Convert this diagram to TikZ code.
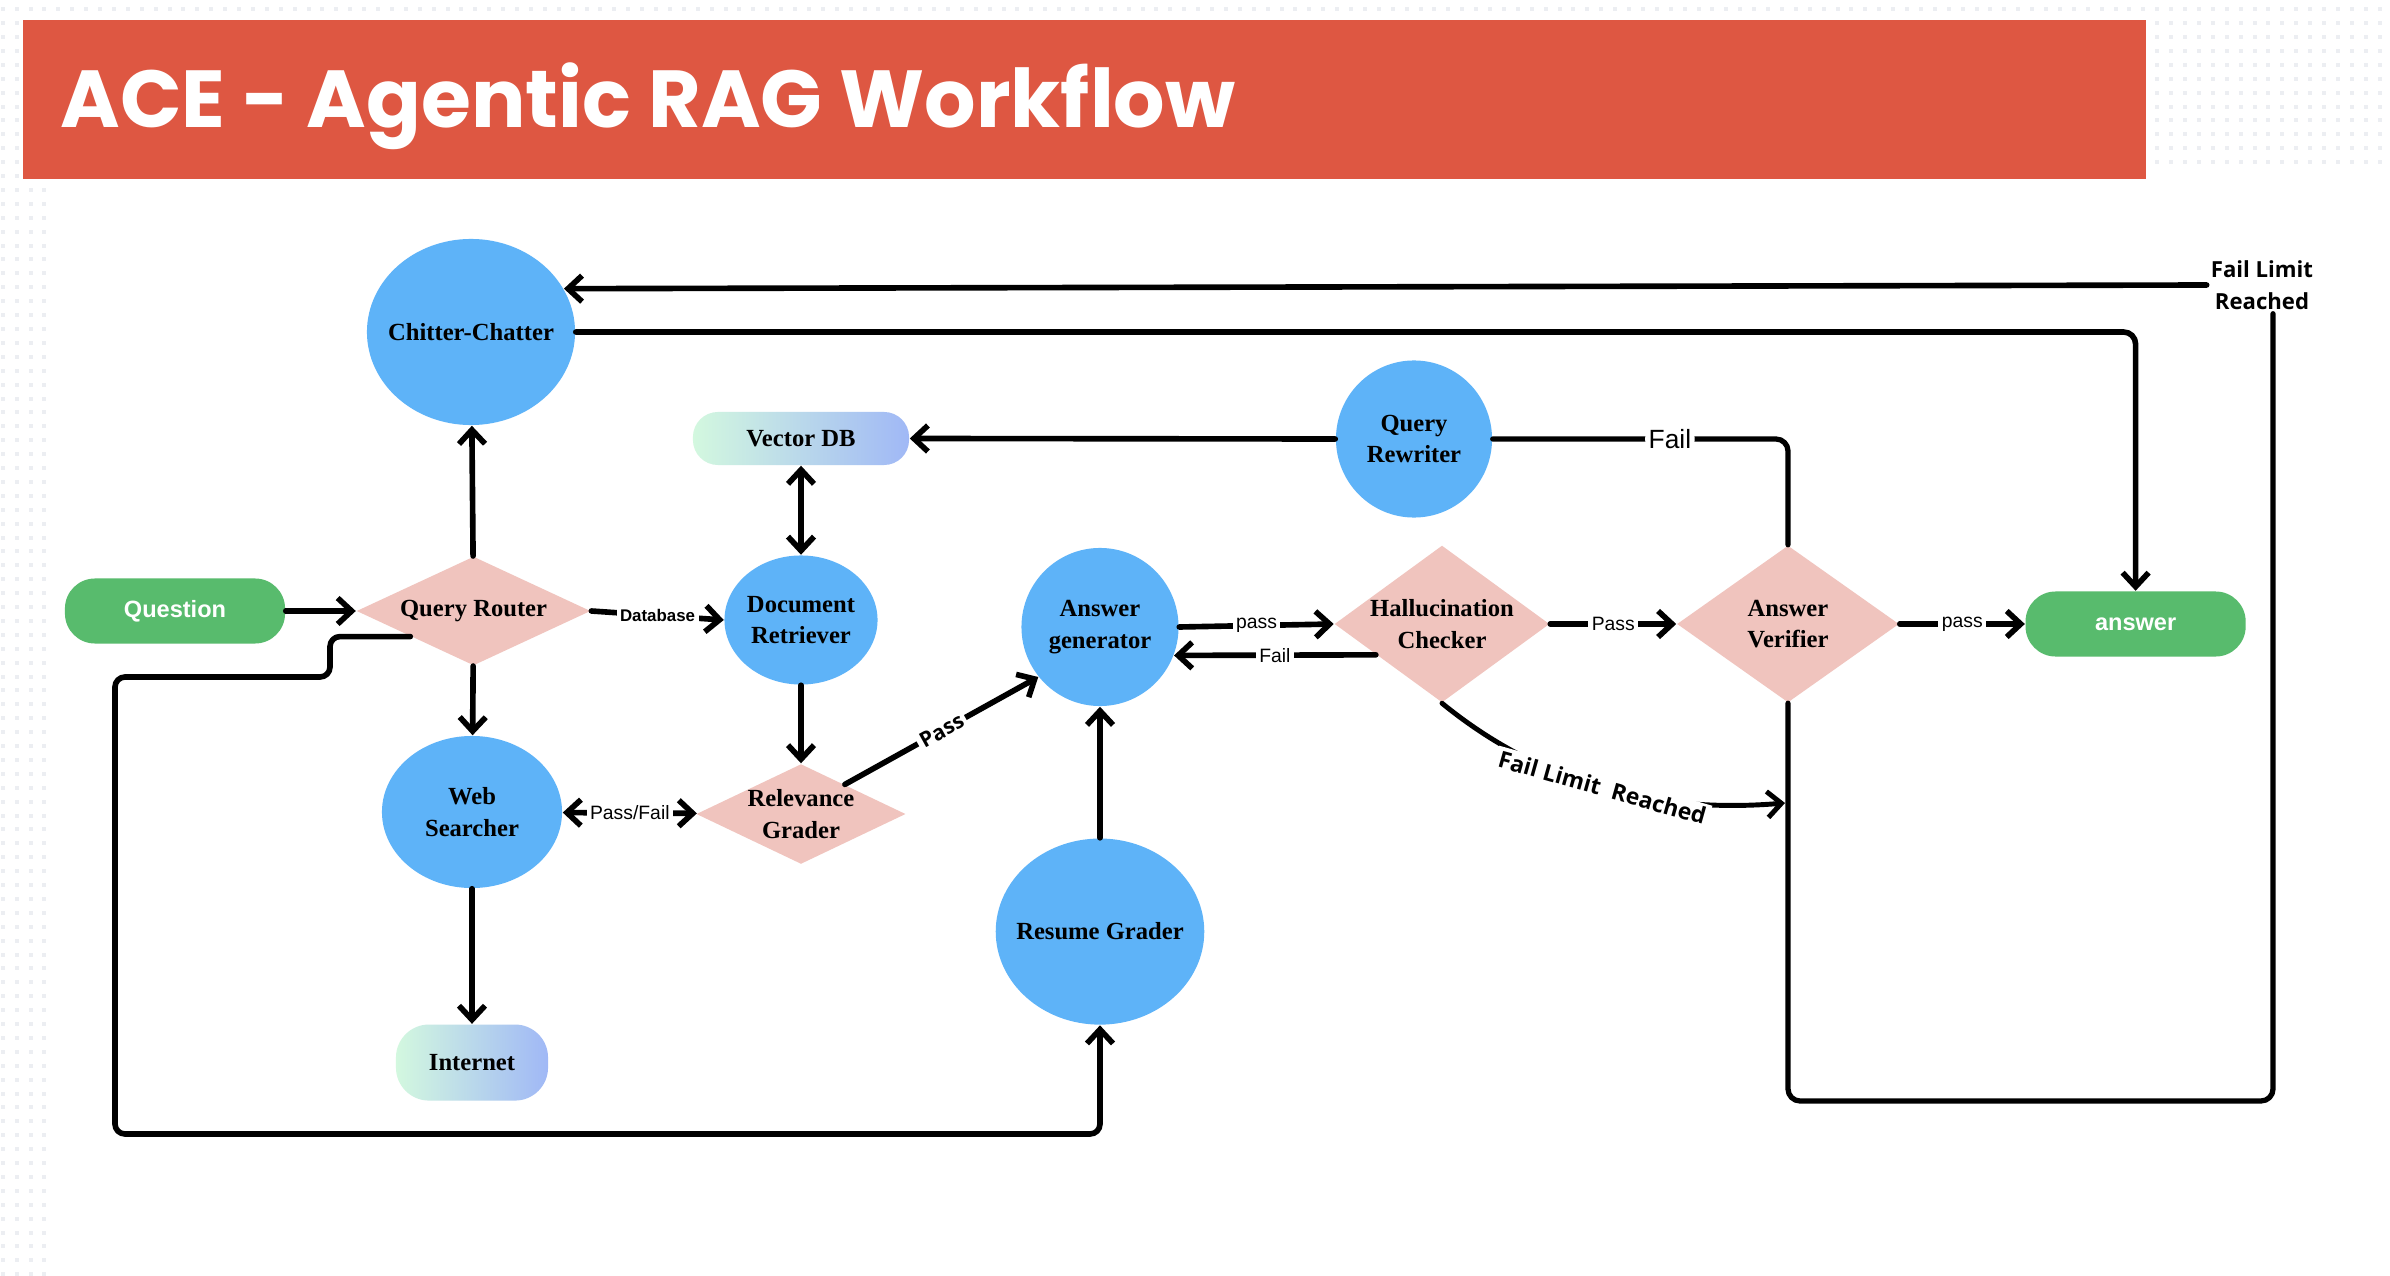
\documentclass[tikz,border=0pt]{standalone}
\usepackage{fontspec}
\setmainfont{Liberation Serif}
\setsansfont{Liberation Sans}
\newfontfamily\titlefont{Poppins}
\newfontfamily\notefont{Open Sans}
\usepackage{tikz}
\usetikzlibrary{arrows.meta,positioning,shapes.geometric}
\definecolor{titlered}{HTML}{DE5742}
\definecolor{agentblue}{HTML}{5EB3F8}
\definecolor{checkpink}{HTML}{F0C4BE}
\definecolor{pillgreen}{HTML}{58BB6D}
\definecolor{storemint}{HTML}{D3F8DF}
\definecolor{storeblue}{HTML}{A0B8F6}
\definecolor{dotgray}{HTML}{ECEEF2}

\begin{document}
\begin{tikzpicture}[
    x=0.01cm, y=-0.01cm,
    >={Straight Barb[length=1.4mm,width=2.6mm]},
    agent/.style={
        ellipse,
        fill=agentblue,
        inner sep=0pt,
        align=center,
        font=\bfseries\fontsize{7}{9}\selectfont
    },
    check/.style={
        diamond,
        fill=checkpink,
        inner sep=0pt,
        align=center,
        font=\bfseries\fontsize{7}{9}\selectfont
    },
    terminal/.style={
        rounded corners=0.3cm,
        fill=pillgreen,
        text=white,
        minimum width=2.2cm,
        minimum height=0.65cm,
        font=\sffamily\bfseries\fontsize{6.7}{8}\selectfont
    },
    store/.style={
        rounded corners=0.25cm,
        left color=storemint,
        right color=storeblue,
        font=\bfseries\fontsize{7}{9}\selectfont
    },
    flow/.style={->, line width=1.6pt, line cap=round, line join=round},
    plain/.style={line width=1.5pt, line cap=round, line join=round},
    tag/.style={fill=white, inner sep=1pt, font=\sffamily\fontsize{5.5}{6}\selectfont}
]
    \useasboundingbox (0,0) rectangle (2390,1276);
    \fill[white] (0,0) rectangle (2390,1276);

    % dotted backdrop in the margins
    \foreach \i in {0,...,171}
        \fill[dotgray] ({0.7+13.9*\i},7.3) rectangle ++(4,4);
    \foreach \j in {1,...,91}
        \foreach \i in {0,...,3}
            \fill[dotgray] ({0.7+13.9*\i},{7.3+13.9*\j}) rectangle ++(4,4);
    \foreach \j in {1,...,11}
        \foreach \i in {155,...,171}
            \fill[dotgray] ({0.7+13.9*\i},{7.3+13.9*\j}) rectangle ++(4,4);

    % banner
    \fill[titlered] (23,20) rectangle (2146,179);
    \node[anchor=base west, inner sep=0pt, text=white,
        font=\titlefont\bfseries\fontsize{23}{28}\selectfont] (title) at (60,128)
        {ACE - Agentic RAG Workflow};

    % nodes
    \node[terminal] (question) at (175,611) {Question};
    \node[check, aspect=2.15, minimum width=2.34cm, minimum height=1.09cm,
        right=0.7cm of question] (router) {Query Router};
    \node[agent, inner xsep=-0.1cm, minimum width=2.08cm, minimum height=1.86cm] (chitchat) at (471,332) {Chitter-Chatter};
    \node[agent, minimum width=1.53cm, minimum height=1.29cm] (retriever) at (801,620) {Document\\Retriever};
    \node[store, minimum width=2.16cm, minimum height=0.53cm, above=0.89cm of retriever] (vectordb) {Vector DB};
    \node[check, aspect=2.1, minimum width=2.09cm, minimum height=1cm,
        below=0.78cm of retriever] (relevance) {Relevance\\Grader};
    \node[agent, minimum width=1.8cm, minimum height=1.52cm] (websearch) at (472,812) {Web\\Searcher};
    \node[store, rounded corners=0.33cm, minimum width=1.52cm, minimum height=0.76cm,
        below=1.35cm of websearch] (internet) {Internet};
    \node[agent, minimum width=1.57cm, minimum height=1.58cm] (generator) at (1100,627) {Answer\\generator};
    \node[agent, inner xsep=-0.1cm, minimum width=2.07cm, minimum height=1.86cm, below=1.31cm of generator] (resume) {Resume Grader};
    \node[agent, minimum width=1.56cm, minimum height=1.57cm] (rewriter) at (1414,439) {Query\\Rewriter};
    \node[check, aspect=1.37, minimum width=2.15cm, minimum height=1.57cm] (halluc) at (1442,624) {Hallucination\\Checker};
    \node[check, aspect=1.41, minimum width=2.22cm, minimum height=1.57cm] (verifier) at (1788,624) {Answer\\Verifier};
    \node[terminal, right=1.25cm of verifier] (answer) {answer};
    \node[align=center, inner sep=1pt,
        font=\notefont\bfseries\fontsize{6.3}{9.1}\selectfont] (limitnote) at (2262,285) {Fail Limit\\Reached};
    \coordinate (loopbl) at (115,1134);
    \coordinate (loopbr) at (2273,1101);
    \coordinate (limithit) at (1785,803);

    % connectors
    \draw[flow] (question) -- (router);
    \draw[flow] (router) -- (chitchat);
    \draw[flow] (router) -- (websearch);
    \draw[flow] (router.east) -- node[tag, font=\sffamily\bfseries\fontsize{4.8}{5}\selectfont]{Database} (retriever.west);
    \draw[flow, <->] (vectordb) -- (retriever);
    \draw[flow] (retriever) -- (relevance);
    \draw[flow, <->] (websearch) -- node[tag]{Pass/Fail} (relevance);
    \draw[flow] (websearch) -- (internet);
    \draw[flow] (relevance.34) -- node[tag, sloped, font=\notefont\bfseries\fontsize{6}{7}\selectfont]{Pass} (generator.219);
    \draw[flow] (resume) -- (generator);
    \draw[flow, rounded corners=0.1cm] (router.202) -| (330,677) -- (115,677) -- (loopbl) -| (resume.south);
    \draw[flow] (generator.east) -- node[tag]{pass} (halluc.west);
    \draw[flow] (halluc.205) -- node[tag]{Fail} (generator.-21);
    \draw[flow] (halluc.east) -- node[tag]{Pass} (verifier.west);
    \draw[flow] (verifier.east) -- node[tag]{pass} (answer.west);
    \draw[plain, rounded corners=0.12cm] (verifier.north) |- node[pos=0.7, tag, font=\sffamily\fontsize{7.5}{8}\selectfont]{Fail} (rewriter.east);
    \draw[flow] (rewriter.west) -- (vectordb.east);
    \draw[flow, line width=1.4pt] (halluc.south) .. controls (1530,775) and (1640,815) ..
        node[sloped, tag, pos=0.53, font=\notefont\bfseries\fontsize{6.5}{7}\selectfont]{Fail Limit\ \ Reached} (limithit);
    \draw[plain, rounded corners=0.12cm] (verifier.south) |- (loopbr) -- (loopbr |- limitnote.south);
    \draw[flow] (limitnote.west) -- (chitchat.25);
    \draw[flow, rounded corners=0.12cm] (chitchat.east) -| (answer.north);
\end{tikzpicture}
\end{document}
